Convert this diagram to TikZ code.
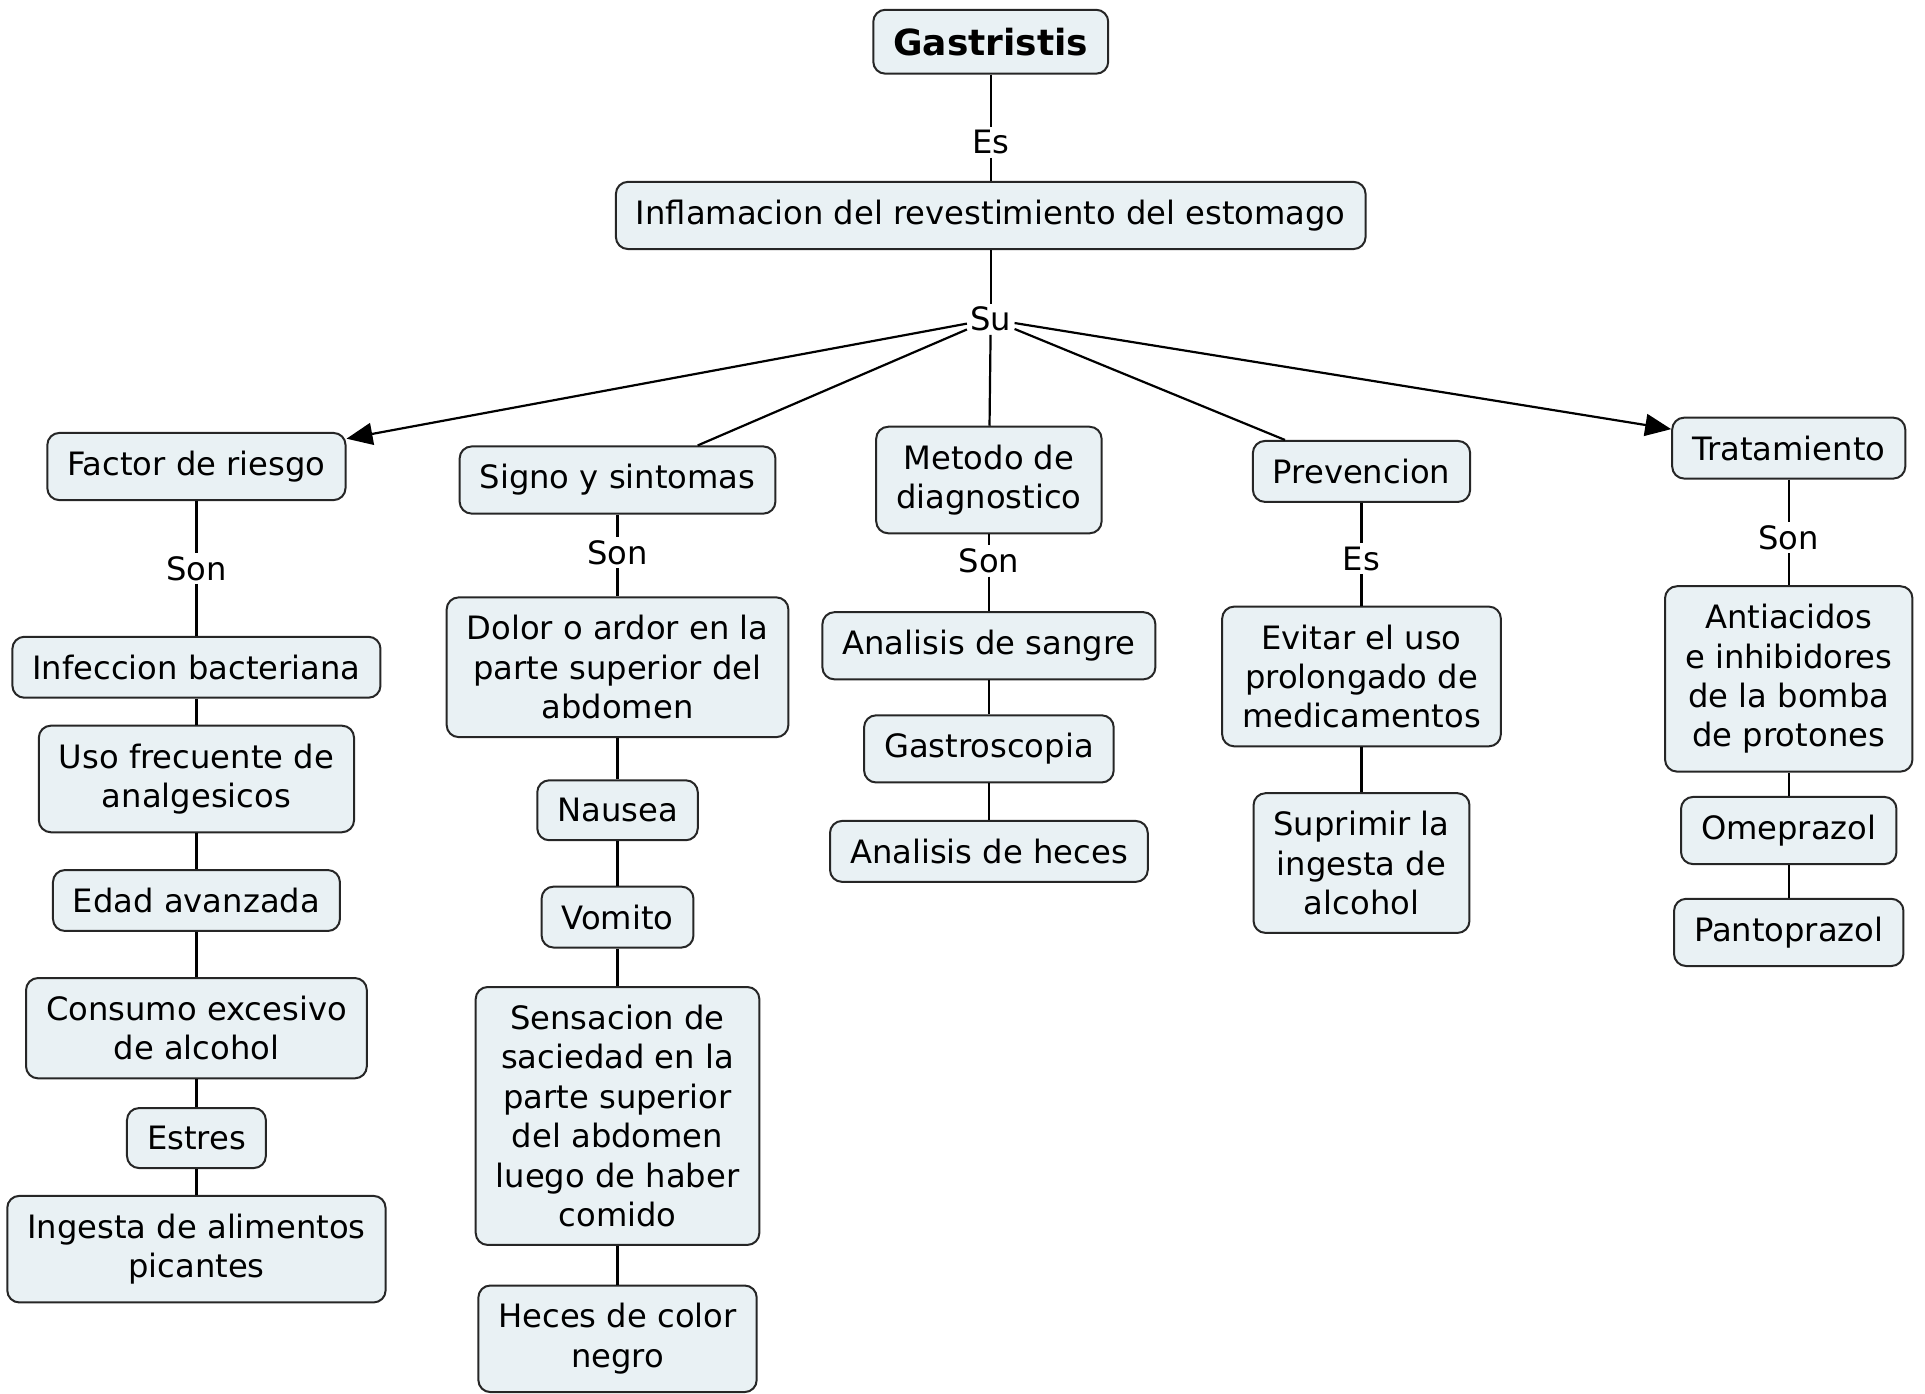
\documentclass[tikz,border=0pt]{standalone}
\usepackage{fontspec}
\setmainfont{DejaVu Sans}
\usetikzlibrary{arrows.meta}
\definecolor{boxfill}{RGB}{233,241,244}

\begin{document}
\begin{tikzpicture}[x=0.61385pt, y=-0.61385pt,
    concept/.style={draw=black!85, fill=boxfill, rounded corners=6pt, line width=1pt,
      inner xsep=10pt, inner ysep=9pt, align=center, font=\fontsize{16.1}{19.7}\selectfont},
    linking/.style={fill=white, inner sep=1.5pt, font=\fontsize{16.1}{19.7}\selectfont},
    link/.style={line width=1.1pt},
    linkarrow/.style={line width=1.1pt, -{Triangle[length=13pt,width=11pt]}}]
    %%%%% START %%%%%

    \useasboundingbox (0,0) rectangle (1568,1135);

    \node[concept, font=\bfseries\fontsize{18}{22}\selectfont] (gastristis) at (807,34) {Gastristis};
    \node[linking] (es1) at (807,116) {Es};
    \node[concept] (inflamacion) at (807,175.5) {Inflamacion del revestimiento del estomago};
    \node[linking] (su) at (807,260) {Su};

    \draw[link] (gastristis) -- (es1) -- (inflamacion) -- (su);

    % ramas
    \node[concept] (factor) at (160,380) {Factor de riesgo};
    \node[concept] (signo) at (503,391) {Signo y sintomas};
    \node[concept] (metodo) at (805.5,391) {Metodo de\\diagnostico};
    \node[concept] (prevencion) at (1109,384) {Prevencion};
    \node[concept] (tratamiento) at (1457,365) {Tratamiento};

    \draw[linkarrow] (su) -- (factor);
    \draw[link] (su) -- (signo);
    \draw[link] (su) -- (metodo);
    \draw[link] (su) -- (prevencion);
    \draw[linkarrow] (su) -- (tratamiento);

    % factor de riesgo
    \node[linking] (son1) at (160,463) {Son};
    \node[concept] (infeccion) at (160,543.5) {Infeccion bacteriana};
    \node[concept] (analgesicos) at (160,634.5) {Uso frecuente de\\analgesicos};
    \node[concept] (edad) at (160,733.5) {Edad avanzada};
    \node[concept] (consumo) at (160,837.5) {Consumo excesivo\\de alcohol};
    \node[concept] (estres) at (160,927) {Estres};
    \node[concept] (picantes) at (160,1017.5) {Ingesta de alimentos\\picantes};

    \draw[link] (factor) -- (son1) -- (infeccion) -- (analgesicos) -- (edad)
      -- (consumo) -- (estres) -- (picantes);

    % signo y sintomas
    \node[linking] (son2) at (503,450) {Son};
    \node[concept] (dolor) at (503,543.5) {Dolor o ardor en la\\parte superior del\\abdomen};
    \node[concept] (nausea) at (503,660) {Nausea};
    \node[concept] (vomito) at (503,747) {Vomito};
    \node[concept] (saciedad) at (503,909) {Sensacion de\\saciedad en la\\parte superior\\del abdomen\\luego de haber\\comido};
    \node[concept] (heces) at (503,1090.5) {Heces de color\\negro};

    \draw[link] (signo) -- (son2) -- (dolor) -- (nausea) -- (vomito) -- (saciedad) -- (heces);

    % metodo de diagnostico
    \node[linking] (son3) at (805.5,457) {Son};
    \node[concept] (sangre) at (805.5,526) {Analisis de sangre};
    \node[concept] (gastroscopia) at (805.5,610) {Gastroscopia};
    \node[concept] (anheces) at (805.5,693.5) {Analisis de heces};

    \draw[link] (metodo) -- (son3) -- (sangre) -- (gastroscopia) -- (anheces);

    % prevencion
    \node[linking] (es2) at (1109,455) {Es};
    \node[concept] (evitar) at (1109,551) {Evitar el uso\\prolongado de\\medicamentos};
    \node[concept] (suprimir) at (1109,703) {Suprimir la\\ingesta de\\alcohol};

    \draw[link] (prevencion) -- (es2) -- (evitar) -- (suprimir);

    % tratamiento
    \node[linking] (son4) at (1457,438) {Son};
    \node[concept] (antiacidos) at (1457,553) {Antiacidos\\e inhibidores\\de la bomba\\de protones};
    \node[concept] (omeprazol) at (1457,676.5) {Omeprazol};
    \node[concept] (pantoprazol) at (1457,759.5) {Pantoprazol};

    \draw[link] (tratamiento) -- (son4) -- (antiacidos) -- (omeprazol) -- (pantoprazol);

    %%%%% END %%%%%
\end{tikzpicture}
\end{document}
